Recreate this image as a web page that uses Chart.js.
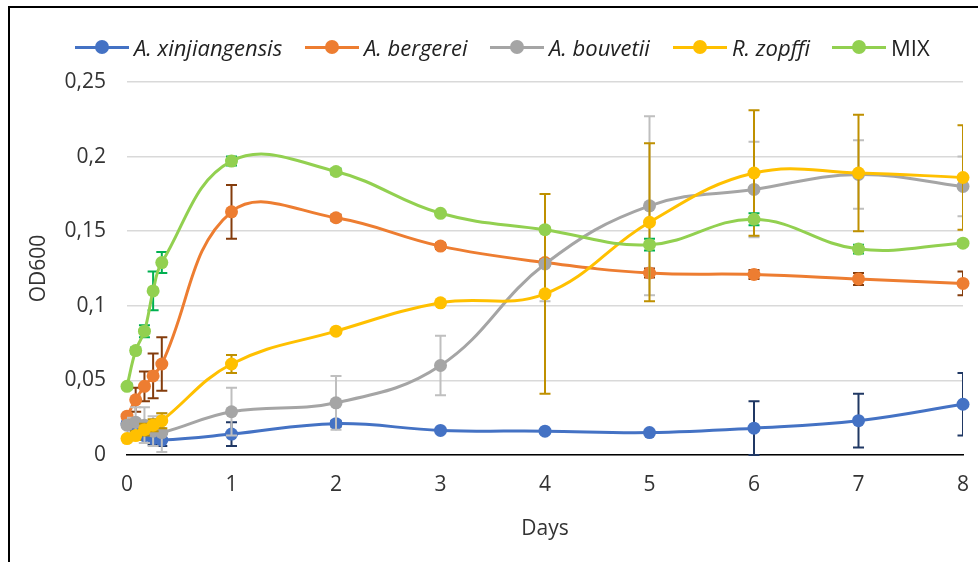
<!DOCTYPE html>
<html lang="en">

<head>
    <meta charset="UTF-8">
    <title>OD600</title>
    <script src="https://cdn.jsdelivr.net/npm/chart.js"></script>
</head>

<style>
    * {
        box-sizing: border-box;
        margin: 0;
        padding: 0;
    }

    body {
        width: 978px;
        height: 562px;
        overflow: hidden;
        background: #fff;
        font-family: 'Open Sans', sans-serif;
        color: #333;
    }

    .frame {
        position: absolute;
        left: 8px;
        top: 6px;
        width: 1000px;
        height: 600px;
        border-left: 2px solid #000;
        border-top: 2px solid #000;
    }

    .legend-item {
        position: absolute;
        top: 32px;
        display: flex;
        align-items: center;
        font-size: 22px;
        color: #222;
        white-space: nowrap;
    }

    .legend-sample {
        position: relative;
        width: 54px;
        height: 14px;
        margin-right: 5px;
    }

    .legend-sample .line {
        position: absolute;
        left: 0;
        right: 0;
        top: 5.5px;
        height: 3px;
    }

    .legend-sample .dot {
        position: absolute;
        left: 20px;
        top: 0;
        width: 14px;
        height: 14px;
        border-radius: 50%;
    }

    #chart {
        position: absolute;
        left: 0;
        top: 0;
    }
</style>

<body>
    <div class="frame"></div>
    <canvas id="chart" width="978" height="562"></canvas>
    <div id="legend"></div>

    <script>
        // sampling times in days (0, 2h, 4h, 6h, 8h, then daily)
        const days = [0, 0.083, 0.167, 0.25, 0.333, 1, 2, 3, 4, 5, 6, 7, 8];

        const seriesNames = ['A. xinjiangensis', 'A. bergerei', 'A. bouvetii', 'R. zopffi', 'MIX'];

        const xinjiangensis = [0.021, 0.014, 0.013, 0.011, 0.010, 0.014, 0.021, 0.0165, 0.016, 0.015, 0.018, 0.023, 0.034];
        const bergerei = [0.026, 0.037, 0.046, 0.053, 0.061, 0.163, 0.159, 0.140, 0.129, 0.122, 0.121, 0.118, 0.115];
        const bouvetii = [0.020, 0.022, 0.020, 0.016, 0.015, 0.029, 0.035, 0.060, 0.128, 0.167, 0.178, 0.188, 0.180];
        const zopffi = [0.011, 0.013, 0.017, 0.020, 0.023, 0.061, 0.083, 0.102, 0.108, 0.156, 0.189, 0.189, 0.186];
        const mix = [0.046, 0.070, 0.083, 0.110, 0.129, 0.197, 0.190, 0.162, 0.151, 0.141, 0.158, 0.138, 0.142];

        // +/- error for each point
        const xinjiangensisErr = [0.004, 0.004, 0.005, 0.004, 0.004, 0.008, 0.002, 0.001, 0.001, 0.001, 0.018, 0.018, 0.021];
        const bergereiErr = [0.003, 0.008, 0.010, 0.015, 0.018, 0.018, 0.002, 0.002, 0.002, 0.003, 0.003, 0.004, 0.008];
        const bouvetiiErr = [0.005, 0.010, 0.012, 0.010, 0.013, 0.016, 0.018, 0.020, 0.025, 0.060, 0.032, 0.023, 0.020];
        const zopffiErr = [0.002, 0.003, 0.004, 0.004, 0.005, 0.006, 0.001, 0.001, 0.067, 0.053, 0.042, 0.039, 0.035];
        const mixErr = [0.002, 0.002, 0.004, 0.013, 0.007, 0.003, 0.002, 0.001, 0.001, 0.004, 0.004, 0.003, 0.002];

        const yTicks = [0, 0.05, 0.1, 0.15, 0.2, 0.25];

        const values = [xinjiangensis, bergerei, bouvetii, zopffi, mix];
        const errors = [xinjiangensisErr, bergereiErr, bouvetiiErr, zopffiErr, mixErr];
        const lineColors = ['#4472C4', '#ED7D31', '#A5A5A5', '#FFC000', '#92D050'];
        const errColors = ['#203864', '#843C0C', '#BFBFBF', '#BF9000', '#00B050'];

        const tickFont = { family: "'Open Sans', sans-serif", size: 21 };

        function toPoints(arr) {
            return arr.map((v, i) => ({ x: days[i], y: v }));
        }

        const datasets = values.map((arr, i) => ({
            label: seriesNames[i],
            data: toPoints(arr),
            errors: errors[i],
            errColor: errColors[i],
            borderColor: lineColors[i],
            backgroundColor: lineColors[i],
            borderWidth: 3,
            pointRadius: 6.5,
            pointBorderWidth: 0,
            tension: 0.4,
            clip: false,
            // later series drawn on top, as in the original
            order: values.length - i
        }));

        // error bars drawn under each series' own markers
        const errorBars = {
            id: 'errorBars',
            beforeDatasetDraw(chart, args) {
                const ds = chart.data.datasets[args.index];
                if (!ds.errors) return;
                const { ctx, chartArea } = chart;
                const xs = chart.scales.x;
                const ys = chart.scales.y;
                ctx.save();
                ctx.beginPath();
                ctx.rect(chartArea.left, 0, chartArea.right - chartArea.left, chart.height);
                ctx.clip();
                ctx.strokeStyle = ds.errColor;
                ctx.lineWidth = 2;
                ds.data.forEach((p, i) => {
                    const e = ds.errors[i];
                    const x = xs.getPixelForValue(p.x);
                    const top = ys.getPixelForValue(p.y + e);
                    const bot = ys.getPixelForValue(p.y - e);
                    ctx.beginPath();
                    ctx.moveTo(x, top);
                    ctx.lineTo(x, bot);
                    ctx.moveTo(x - 5.5, top);
                    ctx.lineTo(x + 5.5, top);
                    ctx.moveTo(x - 5.5, bot);
                    ctx.lineTo(x + 5.5, bot);
                    ctx.stroke();
                });
                ctx.restore();
            }
        };

        const config = {
            type: 'line',
            data: { datasets: datasets },
            plugins: [errorBars],
            options: {
                responsive: false,
                animation: false,
                devicePixelRatio: 1,
                layout: {
                    padding: { left: 10, top: 82, right: 15, bottom: 0 }
                },
                plugins: {
                    legend: { display: false },
                    tooltip: { enabled: false }
                },
                scales: {
                    x: {
                        type: 'linear',
                        min: 0,
                        max: 8,
                        afterFit(scale) {
                            scale.height = 107;
                            scale.paddingLeft = 0;
                            scale.paddingRight = 0;
                        },
                        ticks: {
                            stepSize: 1,
                            font: tickFont,
                            color: '#333',
                            padding: 17,
                            maxRotation: 0
                        },
                        grid: { display: false, drawTicks: false },
                        border: { display: true, color: '#000', width: 1.5 },
                        title: {
                            display: true,
                            text: 'Days',
                            font: tickFont,
                            color: '#333',
                            padding: { top: 0, bottom: 20 }
                        }
                    },
                    y: {
                        min: 0,
                        max: 0.25,
                        afterFit(scale) { scale.width = 117; },
                        afterBuildTicks(scale) {
                            scale.ticks = yTicks.map(v => ({ value: v }));
                        },
                        ticks: {
                            font: tickFont,
                            color: '#333',
                            padding: 21,
                            callback: v => String(+v.toFixed(2)).replace('.', ',')
                        },
                        grid: { color: '#D9D9D9', lineWidth: 1.5, drawTicks: false },
                        border: { display: false },
                        title: {
                            display: true,
                            text: 'OD600',
                            font: tickFont,
                            color: '#333',
                            padding: { top: 16, bottom: 0 }
                        }
                    }
                }
            }
        };

        new Chart(document.getElementById('chart'), config);

        // legend: line + marker sample, species names in italics
        const legendLeft = [75, 305, 490, 673, 832];
        const legend = document.getElementById('legend');
        seriesNames.forEach((name, i) => {
            const item = document.createElement('div');
            item.className = 'legend-item';
            item.style.left = legendLeft[i] + 'px';
            item.innerHTML =
                '<div class="legend-sample">' +
                '<div class="line" style="background:' + lineColors[i] + '"></div>' +
                '<div class="dot" style="background:' + lineColors[i] + '"></div>' +
                '</div>' +
                '<span style="font-style:' + (name === 'MIX' ? 'normal' : 'italic') + '">' + name + '</span>';
            legend.appendChild(item);
        });
    </script>

</body>

</html>
